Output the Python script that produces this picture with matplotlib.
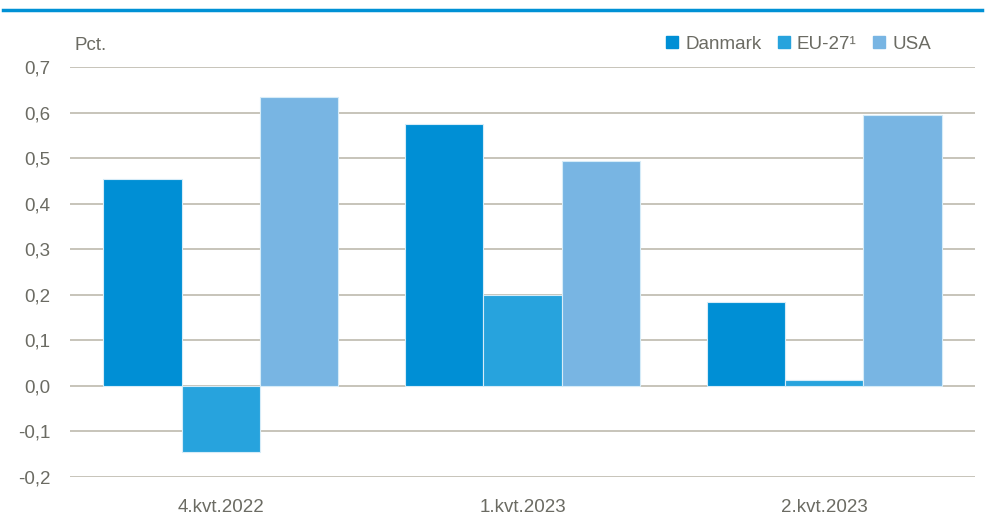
import numpy as np
import matplotlib
matplotlib.use("Agg")
from matplotlib import pyplot as plt
from matplotlib.lines import Line2D

# data
quarters = ["4.kvt.2022", "1.kvt.2023", "2.kvt.2023"]
series = ["Danmark", "EU-27\u00b9", "USA"]
danmark = [0.455, 0.575, 0.185]
eu27 = [-0.145, 0.200, 0.013]
usa = [0.634, 0.494, 0.595]
yticks = [-0.2, -0.1, 0.0, 0.1, 0.2, 0.3, 0.4, 0.5, 0.6, 0.7]

colors = ["#008FD5", "#27A3DD", "#78B5E3"]
text_col = "#6B6B63"
grid_col = "#BDBAAE"

plt.rcParams["font.family"] = ["Liberation Sans Narrow", "Liberation Sans", "DejaVu Sans"]

fig = plt.figure(figsize=(9.85, 5.3), dpi=100)
ax = fig.add_axes([70 / 985, 1 - 477 / 530, 905 / 985, (477 - 67) / 530])

x = np.arange(len(quarters))
w = 0.26
for i, (vals, col) in enumerate(zip([danmark, eu27, usa], colors)):
    ax.bar(x + (i - 1) * w, vals, w, color=col, edgecolor="#D6ECF8",
           linewidth=0.8, zorder=3, label=series[i])

ax.set_xlim(-0.5, 2.5)
ax.set_ylim(-0.2, 0.7)
ax.set_yticks(yticks)
ax.set_yticklabels([("%.1f" % v).replace(".", ",") for v in yticks])
ax.set_xticks(x)
ax.set_xticklabels(quarters)
ax.yaxis.grid(True, color=grid_col, linewidth=1.2, zorder=0)
ax.tick_params(axis="both", length=0, colors=text_col, labelsize=13.5)
ax.tick_params(axis="y", pad=14)
ax.tick_params(axis="x", pad=16)
for s in ax.spines.values():
    s.set_visible(False)

fig.text(75 / 985, 1 - 45 / 530, "Pct.", color=text_col, fontsize=13.5, va="center")

handles = [Line2D([], [], marker="s", linestyle="", markersize=8, color=c) for c in colors]
leg = fig.legend(handles, series, loc="center right", bbox_to_anchor=(948 / 985, 1 - 44 / 530),
                 ncol=3, frameon=False, fontsize=13.5, handletextpad=0.2,
                 columnspacing=0.7, handlelength=1.0)
for t in leg.get_texts():
    t.set_color(text_col)

# blue rule at the top
fig.add_artist(Line2D([3 / 985, 982 / 985], [1 - 10 / 530, 1 - 10 / 530],
                      color="#0091D5", linewidth=2.5))

fig.savefig("out.png", dpi=100)
